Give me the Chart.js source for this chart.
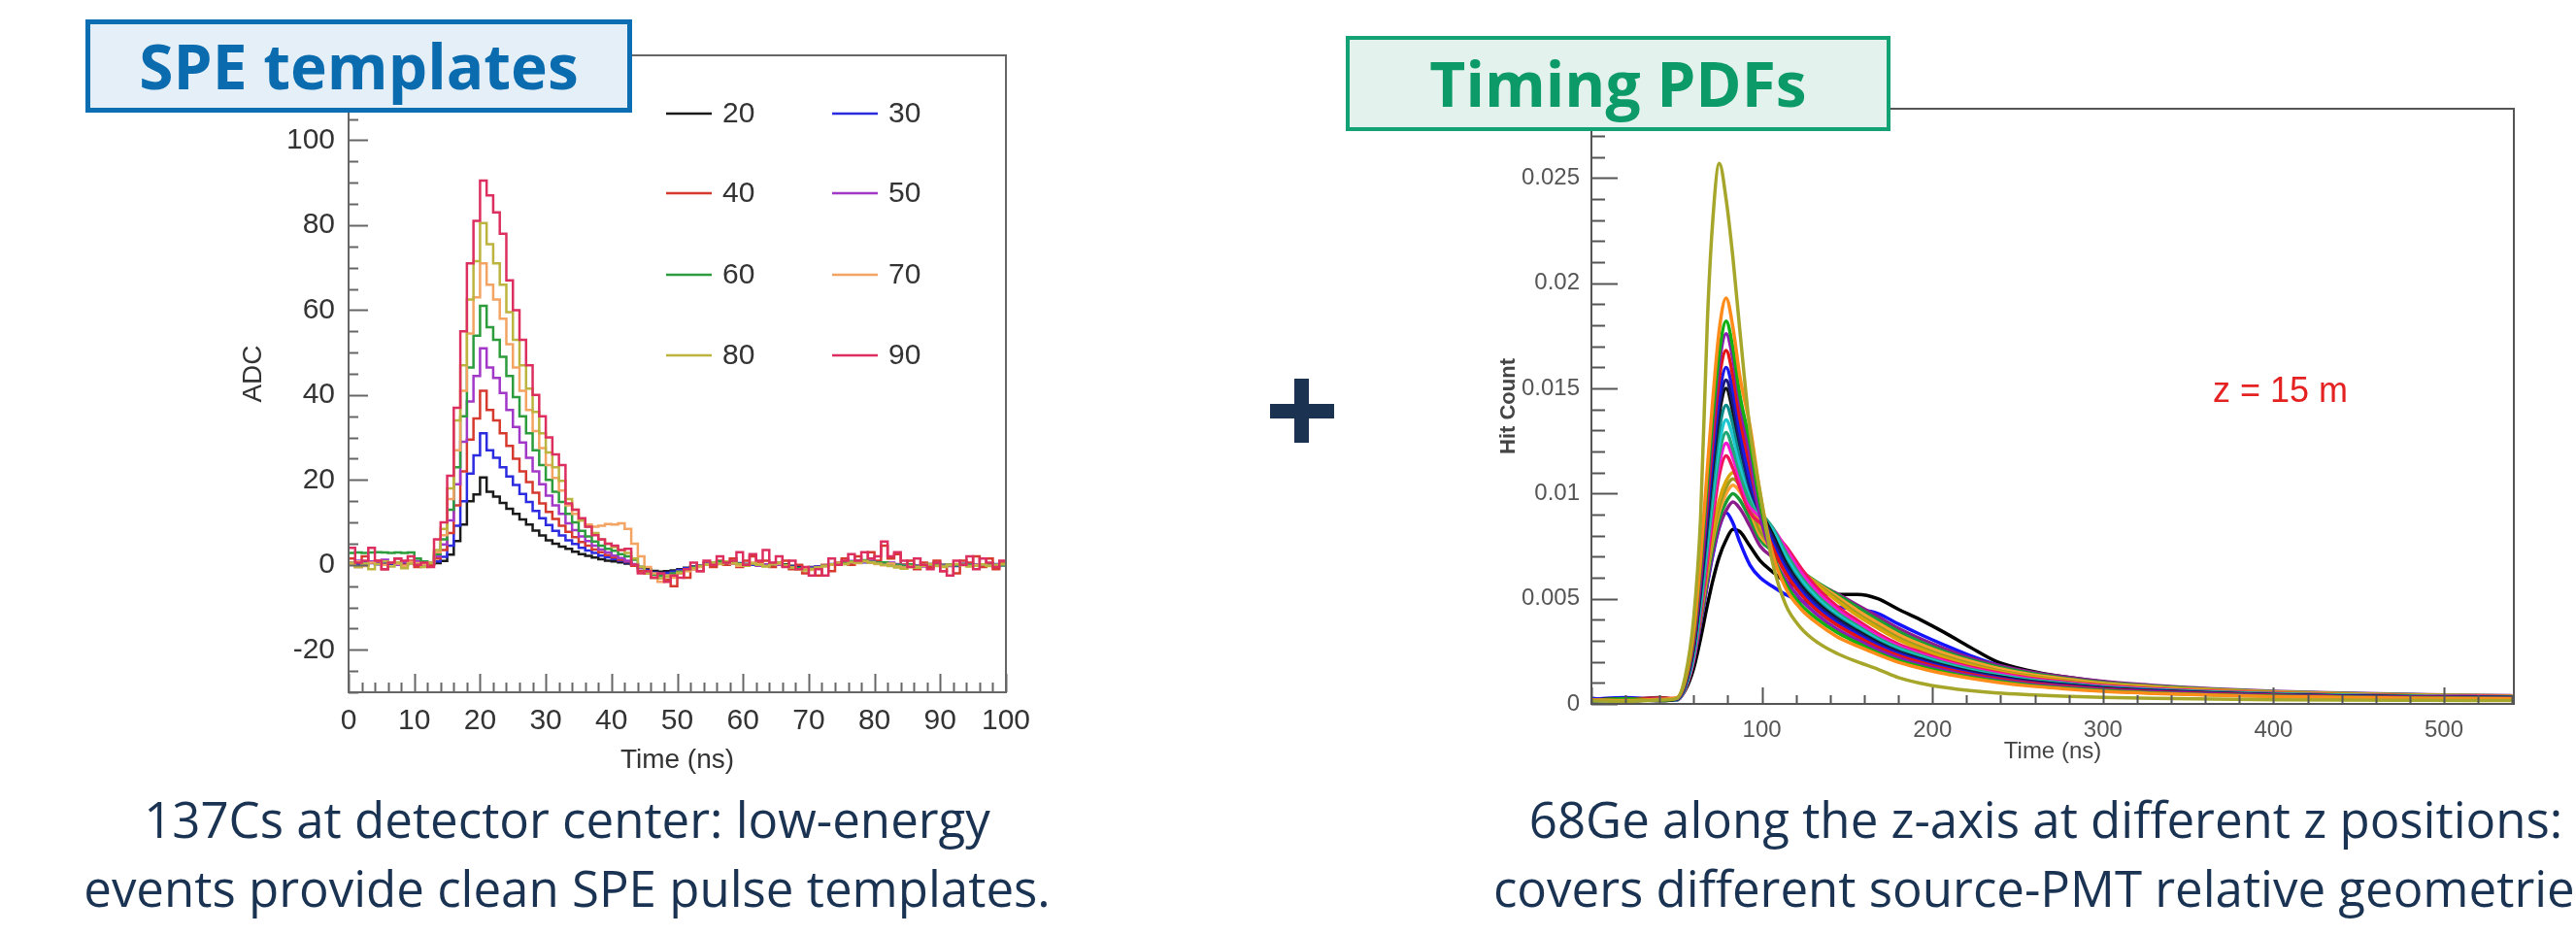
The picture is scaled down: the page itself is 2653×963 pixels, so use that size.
<!DOCTYPE html>
<html>
<head>
<meta charset="utf-8">
<title>SPE templates and timing PDFs</title>
<script src="https://cdn.jsdelivr.net/npm/chart.js@4.4.1/dist/chart.umd.min.js"></script>
<style>
  html, body { margin: 0; padding: 0; }
  body { width: 2653px; height: 963px; position: relative; overflow: hidden; background: #fff; }
  canvas { position: absolute; top: 0; }
  #speChart { left: 200px; }
  #pdfChart { left: 1450px; }
  .tag { position: absolute; box-sizing: border-box; font-family: "Open Sans", sans-serif; font-weight: 700;
         font-size: 64px; text-align: center; white-space: nowrap; z-index: 2; }
  #speTag { left: 88px; top: 20px; width: 563px; height: 96px; line-height: 86px;
            border: 5px solid #0b6db2; background: #e5eff8; color: #0a6cae; }
  #pdfTag { left: 1386px; top: 37px; width: 561px; height: 98px; line-height: 90px;
            border: 4px solid #13a274; background: #e3f2ec; color: #0d9a69; }
  .caption { position: absolute; font-family: "Open Sans", sans-serif; font-size: 51px; line-height: 71px;
             color: #1b3352; text-align: center; white-space: nowrap; }
  #speCaption { left: 84px; width: 1000px; top: 808px; }
  #pdfCaption { left: 1500px; width: 1214px; top: 808px; }
  .plus { position: absolute; background: #1b3350; }
  #zLabel { position: absolute; left: 2279px; top: 382px; font-family: "Liberation Sans", Arial, sans-serif;
            font-size: 36px; line-height: 40px; color: #e42222; white-space: nowrap; }
</style>
</head>
<body>
<canvas id="speChart" width="900" height="830"></canvas>
<canvas id="pdfChart" width="1203" height="840"></canvas>

<div class="tag" id="speTag">SPE templates</div>
<div class="tag" id="pdfTag">Timing PDFs</div>
<div class="plus" style="left:1308px;top:416px;width:66px;height:15px"></div>
<div class="plus" style="left:1333px;top:390px;width:15px;height:66px"></div>
<div id="zLabel">z = 15 m</div>
<div class="caption" id="speCaption">137Cs at detector center: low-energy<br>events provide clean SPE pulse templates.</div>
<div class="caption" id="pdfCaption">68Ge along the z-axis at different z positions:<br>covers different source-PMT relative geometries</div>

<script>
// ---------- SPE templates: ADC per 1 ns bin ----------
const speLabels = ['20', '30', '40', '50', '60', '70', '80', '90'];
const speColors = ['#1a1a1a', '#2b2be0', '#d63a2e', '#a238c8', '#2c9c3c', '#f4a462', '#bdb440', '#dc2f5f'];
const SPE_BIN_NS = 1;
const speBins = Array.from({length: 100}, (_, i) => i * SPE_BIN_NS);   // left bin edges
const speYTicks = [-20, 0, 20, 40, 60, 80, 100];

const spe20 = [
  0.3, 0.5, 0.2, 0.6, 0.4, 0.1, 0.3, 0.5, 0.2, 0.4,
  0.3, 0.1, 0.2, 0.4, 0.9, 2.4, 5.6, 9.5, 15.0, 16.6,
  20.6, 17.2, 16.1, 14.6, 13.2, 12.0, 10.7, 9.5, 8.1, 6.9,
  5.8, 5.0, 4.3, 3.8, 3.1, 2.5, 2.1, 1.7, 1.3, 1.0,
  0.8, 0.6, 0.3, 0.0, -0.5, -1.0, -1.4, -1.6, -1.5, -1.3,
  -1.0, -0.7, -0.4, -0.2, 0.1, 0.3, 0.4, 0.5, 0.4, 0.3,
  0.2, 0.1, 0.0, -0.1, 0.0, 0.2, 0.1, -0.2, -0.4, -0.6,
  -0.5, -0.4, -0.2, 0.0, 0.1, 0.3, 0.5, 0.6, 0.7, 0.6,
  0.5, 0.4, 0.2, 0.1, 0.0, -0.1, -0.2, -0.1, 0.0, 0.1,
  0.0, -0.2, -0.1, 0.1, 0.2, 0.1, 0.0, -0.1, 0.0, 0.1
];
const spe30 = [
  0.5, 0.2, 0.8, 0.4, 0.1, 0.6, 0.3, 0.0, 0.5, 0.7,
  0.2, 0.4, 0.3, 0.8, 1.9, 4.5, 9.2, 15.0, 21.5, 25.8,
  31.0, 27.0, 25.2, 23.0, 20.8, 18.8, 16.7, 14.8, 12.7, 11.0,
  9.4, 8.0, 6.9, 5.8, 4.9, 4.0, 3.4, 2.8, 2.2, 1.8,
  1.4, 1.0, 0.6, 0.1, -0.6, -1.3, -1.8, -2.0, -1.9, -1.6,
  -1.2, -0.8, -0.5, -0.1, 0.2, 0.4, 0.6, 0.5, 0.3, 0.4,
  0.2, 0.0, -0.2, 0.1, 0.3, 0.1, -0.1, -0.4, -0.7, -0.8,
  -0.6, -0.4, -0.1, 0.2, 0.0, 0.4, 0.7, 0.9, 0.6, 0.8,
  0.5, 0.3, 0.4, 0.1, -0.2, 0.0, -0.3, -0.1, 0.2, 0.0,
  -0.2, 0.1, -0.3, 0.0, 0.3, 0.1, -0.2, 0.0, 0.2, -0.1
];
const spe40 = [
  1.5, -0.5, 2.0, 0.5, 1.0, -1.0, 0.5, 1.5, 0.0, 1.0,
  -0.5, 0.5, 0.0, 1.5, 3.5, 7.5, 14.0, 22.0, 29.5, 34.5,
  41.0, 36.5, 34.0, 31.0, 28.0, 25.0, 22.0, 19.5, 17.0, 14.5,
  12.5, 10.8, 9.2, 7.8, 6.5, 5.4, 4.5, 3.6, 3.0, 2.3,
  1.8, 1.2, 0.8, -0.2, -1.5, -2.0, -3.0, -2.5, -3.5, -5.0,
  -2.0, -3.0, -1.0, -1.5, 0.5, -0.5, 1.0, 0.0, 1.5, -0.5,
  1.0, 2.0, 0.5, 1.0, -0.5, 0.5, 1.0, -1.0, 0.0, -2.0,
  -1.0, -2.5, 0.0, -1.5, 0.5, 1.5, 0.0, 2.0, 1.0, 3.0,
  1.0, 4.5, 1.5, 2.5, 0.0, 1.0, -1.0, 0.5, -0.5, 1.0,
  -1.5, 0.0, -2.0, 1.0, 0.5, 2.0, -0.5, 1.5, -1.0, 0.5
];
const spe50 = [
  0.5, 1.0, 0.0, 0.8, 0.3, 1.2, 0.5, 0.0, 0.7, 0.4,
  0.9, 0.2, 0.6, 2.0, 4.8, 10.5, 19.0, 29.0, 38.5, 44.5,
  51.0, 46.5, 44.0, 40.5, 36.5, 32.5, 28.8, 25.2, 22.0, 19.0,
  16.3, 14.0, 12.0, 9.8, 8.2, 6.7, 5.6, 4.5, 3.6, 2.9,
  2.2, 1.6, 1.0, 0.2, -0.8, -1.6, -2.2, -2.5, -2.4, -2.0,
  -1.5, -1.0, -0.6, -0.2, 0.3, 0.5, 0.7, 0.4, 0.6, 0.2,
  0.0, 0.3, -0.2, 0.1, 0.4, 0.0, -0.3, -0.6, -0.9, -1.0,
  -0.7, -0.5, -0.2, 0.1, 0.3, 0.6, 0.9, 1.0, 0.8, 1.0,
  0.6, 0.4, 0.5, 0.2, -0.1, -0.3, -0.1, -0.4, 0.0, 0.2,
  -0.1, -0.3, 0.0, 0.3, 0.1, -0.2, 0.0, 0.2, -0.1, 0.1
];
const spe60 = [
  2.8, 2.9, 2.8, 2.9, 3.0, 2.9, 2.8, 2.9, 2.8, 2.9,
  1.5, 0.8, 0.6, 2.5, 6.0, 13.0, 23.0, 35.0, 46.5, 54.0,
  61.0, 56.0, 53.0, 49.0, 44.5, 39.5, 35.0, 31.0, 27.0, 23.5,
  20.0, 17.2, 14.8, 12.0, 10.0, 8.0, 6.7, 5.5, 4.5, 3.8,
  3.3, 2.5, 2.0, 1.2, -0.5, -1.5, -2.3, -2.6, -2.5, -2.0,
  -1.6, -1.0, -0.6, -0.2, 0.2, 0.6, 0.8, 0.5, 0.7, 0.3,
  0.1, 0.4, 0.0, -0.2, 0.2, 0.4, 0.0, -0.5, -0.8, -1.1,
  -0.9, -0.6, -0.3, 0.0, 0.2, 0.5, 0.8, 0.9, 1.1, 0.7,
  0.5, 0.6, 0.3, 0.0, -0.2, 0.1, -0.3, -0.1, 0.2, 0.0,
  -0.2, 0.1, -0.1, 0.2, 0.0, -0.2, 0.1, 0.3, 0.0, -0.1
];
const spe70 = [
  0.2, 0.8, -0.3, 0.5, 1.0, 0.0, 0.6, 0.3, -0.2, 0.7,
  0.4, 0.1, 0.5, 3.0, 7.0, 15.5, 27.0, 41.0, 54.5, 63.0,
  71.0, 66.0, 62.5, 58.0, 52.0, 46.5, 41.0, 36.5, 31.5, 27.5,
  23.5, 20.5, 17.5, 14.0, 12.0, 10.5, 9.5, 9.0, 9.2, 9.6,
  9.5, 9.8, 8.5, 5.0, 2.0, -0.5, -2.0, -4.0, -2.5, -3.0,
  -2.0, -1.5, -1.0, -0.5, 0.0, 0.4, 0.2, 0.6, 0.3, -0.2,
  0.0, 0.5, 0.2, -0.3, 0.1, 0.3, -0.2, -0.6, -1.0, -0.8,
  -1.2, -0.7, -0.4, 0.0, 0.3, 0.2, 0.6, 0.4, 0.8, 0.5,
  0.2, -0.1, 0.3, -0.4, -0.6, -0.3, -0.5, -0.1, 0.2, -0.2,
  -0.4, 0.0, 0.2, -0.1, -0.3, 0.0, 0.1, -0.2, 0.0, 0.2
];
const spe80 = [
  0.5, -0.5, 0.3, -1.0, 0.2, 0.8, -0.4, 0.6, -0.8, 0.3,
  0.0, -0.5, 0.4, 3.5, 8.5, 18.0, 34.0, 47.0, 62.5, 71.5,
  80.5, 75.5, 71.0, 66.0, 59.5, 53.0, 47.0, 41.5, 36.0, 31.0,
  26.5, 23.0, 19.8, 15.5, 13.0, 10.5, 9.0, 7.5, 6.0, 5.0,
  4.2, 3.5, 2.8, 1.5, -0.5, -2.0, -3.0, -3.2, -2.8, -2.5,
  -1.8, -1.2, -0.8, -0.3, 0.1, 0.5, 0.3, 0.8, 0.5, 0.1,
  -0.2, 0.3, 0.0, -0.4, 0.2, 0.5, -0.1, -0.7, -1.0, -1.3,
  -1.0, -0.6, -0.2, 0.1, 0.4, 0.2, 0.7, 0.5, 0.9, 0.6,
  0.3, 0.0, -0.3, -0.6, -0.9, -0.5, -0.7, -0.2, 0.1, -0.3,
  -0.5, -0.1, 0.2, 0.0, -0.4, -0.2, 0.1, -0.3, -0.1, 0.2
];
const spe90 = [
  4.0, 0.5, 1.0, 4.0, 1.0, -1.0, 0.5, 1.5, 1.0, 2.0,
  0.0, 0.5, -0.5, 6.0, 10.0, 21.0, 37.0, 55.0, 71.0, 81.0,
  90.5, 87.0, 83.0, 78.0, 67.0, 60.0, 53.0, 47.0, 40.0, 35.0,
  30.0, 26.0, 23.5, 14.5, 13.0, 11.0, 9.0, 7.0, 6.0, 5.0,
  4.5, 3.5, 3.8, 0.0, -2.0, -1.5, -3.0, -2.0, -4.0, -2.5,
  -3.0, -1.0, 0.5, -1.5, 1.0, 0.0, 2.0, 0.5, 1.0, 3.0,
  0.0, 2.5, 1.0, 3.5, 0.5, 2.0, -0.5, 1.0, -1.0, -0.5,
  -2.5, -1.0, -2.5, 1.5, 0.0, 1.0, 2.5, 1.0, 3.0, 1.5,
  2.0, 5.5, 2.0, 3.0, 1.0, -0.5, 1.5, 0.0, -1.0, 0.5,
  -1.5, -2.5, 1.0, 0.0, 2.0, -1.0, 1.5, 0.5, -0.5, 1.0
];
const speSeries = [spe20, spe30, spe40, spe50, spe60, spe70, spe80, spe90];

// ---------- Timing PDFs: hit fraction vs time, in units of 1e-4 ----------
const HIT_UNIT = 1e-4;
const pdfTime = [0, 20, 40, 50, 55, 60, 64, 68, 71, 75, 79, 83, 87, 93, 99, 106, 114, 123,
  133, 144, 156, 168, 180, 193, 207, 222, 238, 256, 276, 300, 330, 365, 400, 440, 490, 540];
const pdfXTicks = [100, 200, 300, 400, 500];
const pdfYTicks = [0, 0.005, 0.01, 0.015, 0.02, 0.025];

const pdf01 = [1.5, 1.2, 1.8, 2.6, 13, 41, 88, 182, 228, 257, 240, 212, 178, 130, 100, 68, 47, 36,
  29, 24, 20, 16.5, 12.5, 9.8, 7.8, 6.3, 5.2, 4.4, 3.7, 3.1, 2.7, 2.3, 2.0, 1.8, 1.7, 1.6];
const pdf02 = [2.0, 1.6, 2.2, 2.9, 11.6, 35, 69, 112, 143, 178, 193, 179, 156, 132, 100, 72, 55, 45,
  38, 32, 27.5, 23.5, 19.8, 17, 14.4, 12.2, 10.3, 8.6, 7.3, 6, 5, 4.1, 3.5, 3.1, 2.7, 2.4];
const pdf03 = [1.6, 2.4, 1.8, 2.7, 10.9, 33, 66, 106, 135, 167, 182, 169, 147, 124, 95, 72, 57, 47,
  40, 34, 29, 24.3, 20.7, 17.8, 15.1, 12.8, 10.8, 9, 7.6, 6.3, 5.2, 4.3, 3.7, 3.2, 2.8, 2.5];
const pdf04 = [2.0, 1.7, 2.3, 2.6, 10.6, 32, 63, 102, 130, 162, 176, 164, 143, 118, 89, 71, 59, 49.5,
  42, 35.6, 30.4, 25.7, 21.9, 18.8, 16, 13.5, 11.4, 9.5, 8.1, 6.7, 5.5, 4.6, 3.9, 3.3, 2.9, 2.7];
const pdf05 = [1.8, 2.2, 2.8, 2.5, 10, 30, 60, 97, 124, 155, 168, 156, 136, 113, 90, 75, 62, 52,
  44, 37.5, 32, 27, 23, 19.8, 16.8, 14.2, 12, 10, 8.5, 7, 5.8, 4.8, 4.1, 3.5, 3.1, 2.8];
const pdf06 = [2.6, 1.3, 2.1, 2.4, 9.6, 29, 58, 93, 118, 147, 160, 149, 130, 107, 91, 77, 64, 53.5,
  45.3, 38.6, 33, 27.8, 23.7, 20.4, 17.3, 14.6, 12.4, 10.3, 8.8, 7.2, 6, 4.9, 4.2, 3.6, 3.2, 2.9];
const pdf07 = [1.5, 2.0, 2.4, 2.3, 9.2, 28, 55, 89, 114, 142, 154, 143, 125, 103, 91, 79.5, 65.7, 55,
  46.6, 39.8, 33.9, 28.6, 24.4, 21, 17.8, 15, 12.7, 10.6, 9, 7.4, 6.1, 5.1, 4.3, 3.7, 3.3, 3];
const pdf08 = [1.9, 2.5, 1.5, 2.3, 9, 27, 54, 87, 111, 138, 150, 139, 124, 104, 92, 81, 67, 56,
  47.5, 40.5, 34.6, 29.2, 24.8, 21.4, 18.1, 15.3, 13, 10.8, 9.2, 7.6, 6.3, 5.2, 4.4, 3.8, 3.3, 3];
const pdf09 = [2.2, 1.6, 1.9, 2.1, 8.5, 26, 51, 82, 105, 131, 142, 133, 119, 102, 90, 81, 68, 57,
  48.4, 41.3, 35.2, 29.7, 25.3, 21.8, 18.5, 15.6, 13.2, 11, 9.4, 7.7, 6.4, 5.3, 4.5, 3.9, 3.4, 3.1];
const pdf10 = [1.3, 1.9, 2.2, 2.0, 8.1, 24, 49, 78, 100, 124, 135, 127, 114, 100, 90, 83, 70, 58.8,
  49.7, 42.4, 36.2, 30.5, 26, 22.4, 19, 16, 13.6, 11.3, 9.6, 7.9, 6.6, 5.4, 4.6, 4, 3.5, 3.2];
const pdf11 = [1.7, 2.1, 2.6, 1.9, 7.7, 23, 46, 75, 95.5, 119, 129, 121, 110, 96, 91, 84, 72, 60.3,
  51, 43.5, 37.1, 31.3, 26.7, 23, 19.5, 16.5, 13.9, 11.6, 9.9, 8.1, 6.7, 5.6, 4.8, 4.1, 3.6, 3.2];
const pdf12 = [2.4, 1.4, 2.0, 1.9, 7.4, 22, 45, 72, 92, 114, 124, 117, 107, 94, 89, 84, 74, 62.4,
  52.8, 45, 38.4, 32.4, 27.6, 23.8, 20.2, 17, 14.4, 12, 10.2, 8.4, 7, 5.8, 4.9, 4.2, 3.7, 3.4];
const pdf13 = [1.4, 2.3, 1.7, 1.8, 7.1, 21, 42.5, 68, 87, 109, 118, 112, 103, 91, 86, 82, 75, 64.5,
  54.6, 46.5, 39.7, 33.5, 28.5, 24.6, 20.8, 17.6, 14.9, 12.4, 10.5, 8.7, 7.2, 6, 5.1, 4.3, 3.8, 3.5];
const pdf14 = [2.0, 1.5, 2.5, 2.2, 8.8, 24, 44, 66, 81, 97, 106, 110, 107, 97, 85, 76, 70, 63,
  56, 49, 42, 36, 30.5, 26, 22, 18.5, 15.5, 13, 11, 9, 7.4, 6.1, 5.2, 4.5, 3.9, 3.5];
const pdf15 = [1.6, 2.2, 1.9, 2.1, 8.6, 23.5, 43, 64, 79, 94, 103, 107, 104, 94, 82, 75, 69.5, 63,
  56.5, 50, 43, 37, 31.5, 27, 22.8, 19.2, 16, 13.4, 11.3, 9.3, 7.6, 6.3, 5.3, 4.6, 4, 3.6];
const pdf16 = [2.1, 1.7, 2.4, 2.1, 8.3, 23, 41.6, 62.4, 77, 91.5, 100, 104, 101, 91.5, 80, 74, 69, 63,
  57, 51, 44.5, 38.5, 33, 28.3, 24, 20.3, 17, 14.2, 12, 9.8, 8.1, 6.7, 5.6, 4.8, 4.2, 3.7];
const pdf17 = [1.5, 2.0, 2.3, 2.0, 8, 22, 40, 60, 74, 88, 96, 100, 97, 88, 78, 73, 68.5, 63,
  57.5, 52, 46, 40, 34.5, 29.5, 25, 21, 17.7, 14.8, 12.4, 10.2, 8.4, 6.9, 5.8, 5, 4.3, 3.8];
const pdf18 = [1.8, 2.4, 2.6, 1.9, 7.7, 21, 38.4, 57.6, 71, 84.5, 92, 96, 93, 84.5, 75, 70, 66, 61.5,
  57, 52.5, 47, 41.5, 36, 31, 26.3, 22, 18.5, 15.5, 13, 10.7, 8.8, 7.2, 6, 5.2, 4.4, 3.9];
const pdf19 = [2.2, 3.0, 2.0, 2.3, 8, 21, 38, 57, 70, 84, 91, 86, 77, 66, 60, 56, 52, 49,
  47, 46, 45, 43, 38, 33, 28, 23, 18.5, 14.5, 11.5, 9, 7, 5.5, 4.6, 4, 3.5, 3.2];
const pdf20 = [2.5, 1.8, 3.0, 2.0, 6.5, 17, 31, 47, 58, 70, 78, 83, 82, 75, 68, 63, 58, 55,
  53, 52, 52, 50, 45, 40, 34, 27, 20, 16, 13, 10.5, 8, 6.3, 5.2, 4.5, 3.8, 3.4];

// drawn back to front: the last entry ends up on top
const pdfSeries = [pdf20, pdf19, pdf18, pdf17, pdf16, pdf15, pdf14, pdf13, pdf12, pdf11,
  pdf10, pdf09, pdf08, pdf07, pdf06, pdf05, pdf04, pdf03, pdf02, pdf01];
const pdfColors = ['#000000', '#1414ff', '#8c1c8c', '#1a9c36', '#ffa030', '#9c9c1e', '#d8a60a', '#f0145a',
  '#f01ad2', '#22a878', '#1ec8d0', '#0e8c8c', '#111111', '#1a1a7a', '#1c1ce6', '#e41414',
  '#8c1cb4', '#12b012', '#ff8c1a', '#a6a62a'];

// ROOT-like frame: box around the plot, ticks pointing inwards
const rootFrame = {
  id: 'rootFrame',
  afterDatasetsDraw(chart, args, o) {
    const {ctx, chartArea: a, scales: {x, y}} = chart;
    const isMajor = (v, step) => Math.abs(v / step - Math.round(v / step)) < 1e-6;
    ctx.save();
    ctx.strokeStyle = o.color;
    ctx.lineWidth = o.lineWidth;
    ctx.strokeRect(a.left, a.top, a.right - a.left, a.bottom - a.top);
    ctx.beginPath();
    const nx = Math.floor((x.max - x.min) / o.xMinor + 1e-6);
    for (let i = 0; i <= nx; i++) {
      const v = x.min + i * o.xMinor;
      const px = Math.round(x.getPixelForValue(v)) + 0.5;
      ctx.moveTo(px, a.bottom);
      ctx.lineTo(px, a.bottom - (isMajor(v, o.xMajor) ? o.xMajorLen : o.xMinorLen));
    }
    const ny = Math.floor((y.max - y.min) / o.yMinor + 1e-6);
    for (let i = 0; i <= ny; i++) {
      const v = y.min + i * o.yMinor;
      const py = Math.round(y.getPixelForValue(v)) + 0.5;
      ctx.moveTo(a.left, py);
      ctx.lineTo(a.left + (isMajor(v, o.yMajor) ? o.yMajorLen : o.yMinorLen), py);
    }
    ctx.stroke();
    ctx.restore();
  }
};

// two-column key in the upper right of the SPE plot
const speKey = {
  id: 'speKey',
  afterDraw(chart, args, o) {
    const ctx = chart.ctx;
    ctx.save();
    ctx.font = o.font;
    ctx.textBaseline = 'middle';
    chart.data.datasets.forEach((ds, i) => {
      const x0 = o.cols[i % 2], yy = o.rows[Math.floor(i / 2)];
      ctx.strokeStyle = ds.borderColor;
      ctx.lineWidth = 2.5;
      ctx.beginPath();
      ctx.moveTo(x0, yy);
      ctx.lineTo(x0 + o.lineLen, yy);
      ctx.stroke();
      ctx.fillStyle = '#333';
      ctx.fillText(ds.label, x0 + o.lineLen + o.gap, yy + 1);
    });
    ctx.restore();
  }
};

Chart.defaults.font.family = '"Liberation Sans", Arial, sans-serif';
Chart.defaults.animation = false;

const speChart = new Chart(document.getElementById('speChart'), {
  type: 'line',
  data: {
    datasets: speSeries.map((vals, i) => ({
      label: speLabels[i],
      data: speBins.map((t, k) => ({x: t, y: vals[k]}))
        .concat([{x: speBins.length * SPE_BIN_NS, y: vals[vals.length - 1]}]),
      borderColor: speColors[i],
      borderWidth: 2.5,
      pointRadius: 0,
      stepped: 'before',
      fill: false,
      order: speSeries.length - i
    }))
  },
  options: {
    responsive: false,
    layout: {padding: {left: 0, top: 57, right: 64, bottom: 0}},
    plugins: {
      legend: {display: false},
      tooltip: {enabled: false},
      rootFrame: {color: '#666', lineWidth: 2, xMinor: 2, xMajor: 10, yMinor: 5, yMajor: 20,
                  xMajorLen: 19, xMinorLen: 10, yMajorLen: 20, yMinorLen: 10},
      speKey: {font: '30px "Liberation Sans", Arial, sans-serif', cols: [486, 657],
               rows: [117, 199, 283, 366], lineLen: 47, gap: 11}
    },
    scales: {
      x: {
        type: 'linear', min: 0, max: 100,
        grid: {display: false}, border: {display: false},
        ticks: {stepSize: 10, padding: 4, color: '#333', font: {size: 30}},
        title: {display: true, text: 'Time (ns)', color: '#333', font: {size: 28}, padding: {top: 0, bottom: 30}},
        afterFit(s) { s.height = 117; }
      },
      y: {
        min: -30, max: 120,
        grid: {display: false}, border: {display: false},
        ticks: {padding: 6, color: '#333', font: {size: 30}, callback: v => String(v)},
        afterBuildTicks(s) { s.ticks = speYTicks.map(v => ({value: v})); },
        title: {display: true, text: 'ADC', color: '#333', font: {size: 28}, padding: {top: 44, bottom: 0}},
        afterFit(s) { s.width = 159; }
      }
    }
  },
  plugins: [rootFrame, speKey]
});

const pdfChart = new Chart(document.getElementById('pdfChart'), {
  type: 'line',
  data: {
    datasets: pdfSeries.map((vals, i) => ({
      data: pdfTime.map((t, k) => ({x: t, y: vals[k] * HIT_UNIT})),
      borderColor: pdfColors[i],
      borderWidth: 3.5,
      pointRadius: 0,
      cubicInterpolationMode: 'monotone',
      fill: false,
      order: pdfSeries.length - i
    }))
  },
  options: {
    responsive: false,
    layout: {padding: {left: 0, top: 112, right: 64, bottom: 0}},
    plugins: {
      legend: {display: false},
      tooltip: {enabled: false},
      rootFrame: {color: '#555', lineWidth: 2, xMinor: 20, xMajor: 100, yMinor: 0.001, yMajor: 0.005,
                  xMajorLen: 17, xMinorLen: 9, yMajorLen: 27, yMinorLen: 14}
    },
    scales: {
      x: {
        type: 'linear', min: 0, max: 541,
        grid: {display: false}, border: {display: false},
        ticks: {padding: 5, color: '#555', font: {size: 24}},
        afterBuildTicks(s) { s.ticks = pdfXTicks.map(v => ({value: v})); },
        title: {display: true, text: 'Time (ns)', color: '#444', font: {size: 24}, padding: {top: 0, bottom: 51}},
        afterFit(s) { s.height = 115; }
      },
      y: {
        min: 0, max: 0.0283,
        grid: {display: false}, border: {display: false},
        ticks: {padding: 4, color: '#555', font: {size: 24}, callback: v => String(Math.round(v * 1000) / 1000)},
        afterBuildTicks(s) { s.ticks = pdfYTicks.map(v => ({value: v})); },
        title: {display: true, text: 'Hit Count', color: '#444', font: {size: 22, weight: 'bold'}, padding: {top: 91, bottom: 0}},
        afterFit(s) { s.width = 189; }
      }
    }
  },
  plugins: [rootFrame]
});
</script>
</body>
</html>
